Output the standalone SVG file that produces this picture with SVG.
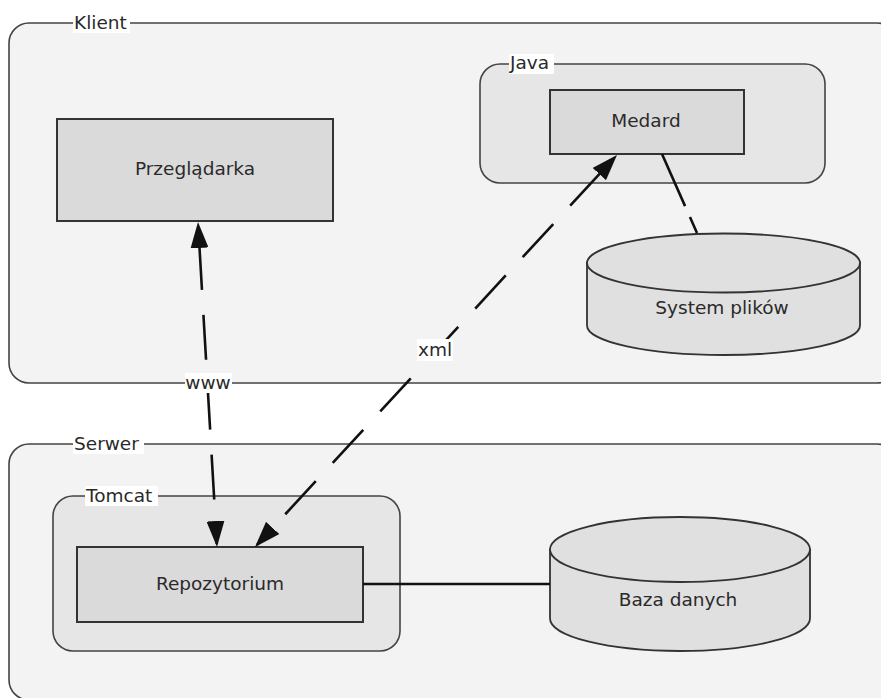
<svg xmlns="http://www.w3.org/2000/svg" width="881" height="698" viewBox="0 0 881 698">
<style>
text{font-family:"DejaVu Sans","Liberation Sans",sans-serif;font-size:18.5px;fill:#2a2a2a}
.mid{text-anchor:middle}
.outer{fill:#f3f3f3;stroke:#444;stroke-width:1.6}
.inner{fill:#e6e6e6;stroke:#444;stroke-width:1.6}
.box{fill:#dadada;stroke:#333;stroke-width:2}
.cyl{fill:#e0e0e0;stroke:#333;stroke-width:1.8}
.lbl{fill:#fff}
.conn{fill:none;stroke:#111;stroke-width:2.6}
.dash{stroke-dasharray:45 25}
</style>
<defs>
<marker id="ah" markerUnits="userSpaceOnUse" markerWidth="26" markerHeight="18" refX="23" refY="9" orient="auto-start-reverse">
<path d="M0,0 L26,9 L0,18 z" fill="#111"/>
</marker>
</defs>
<rect width="881" height="698" fill="#fff"/>
<g id="klient">
<rect class="outer" x="9" y="23" width="888" height="360" rx="20"/>
<rect class="lbl" x="73" y="13" width="57" height="20"/>
<text x="74" y="29">Klient</text>
</g>
<g id="serwer">
<rect class="outer" x="9" y="444" width="888" height="256" rx="20"/>
<rect class="lbl" x="73" y="434" width="71" height="20"/>
<text x="74" y="450">Serwer</text>
</g>
<g id="java">
<rect class="inner" x="480" y="64" width="345" height="119" rx="20"/>
<rect class="lbl" x="509" y="54" width="45" height="20"/>
<text x="510" y="69">Java</text>
</g>
<g id="tomcat">
<rect class="inner" x="53" y="496" width="347" height="155" rx="20"/>
<rect class="lbl" x="85" y="486" width="73" height="20"/>
<text x="86" y="502">Tomcat</text>
</g>
<g id="przegladarka">
<rect class="box" x="57" y="119" width="276" height="102"/>
<text class="mid" x="195" y="175">Przeglądarka</text>
</g>
<g id="medard">
<rect class="box" x="550" y="90" width="194" height="64"/>
<text class="mid" x="646" y="127">Medard</text>
</g>
<g id="system-plikow">
<path class="cyl" d="M587,263 L587,325.5 A136.5,29.5 0 0 0 860,325.5 L860,263 Z"/>
<ellipse class="cyl" cx="723.5" cy="263" rx="136.5" ry="29.5"/>
<text class="mid" x="722" y="314">System plików</text>
</g>
<g id="repozytorium">
<rect class="box" x="77" y="547" width="286" height="75"/>
<text class="mid" x="220" y="590">Repozytorium</text>
</g>
<g id="baza-danych">
<path class="cyl" d="M550,549.5 L550,618.5 A130,32.5 0 0 0 810,618.5 L810,549.5 Z"/>
<ellipse class="cyl" cx="680" cy="549.5" rx="130" ry="32.5"/>
<text class="mid" x="678" y="606">Baza danych</text>
</g>
<g id="connectors">
<path class="conn" d="M662,154 L697,233" stroke-dasharray="57 12 100"/>
<path class="conn" d="M363,584 L550,584" stroke-width="2"/>
<path class="conn dash" d="M198.18,225 L216.82,544" stroke-dashoffset="-20" marker-start="url(#ah)" marker-end="url(#ah)"/>
<path class="conn dash" d="M614.96,157.2 L257.04,544.8" stroke-dashoffset="-21" marker-start="url(#ah)" marker-end="url(#ah)"/>
<rect class="lbl" x="185" y="373" width="47" height="20"/>
<text class="mid" x="208" y="389">www</text>
<rect class="lbl" x="417" y="339" width="36" height="22"/>
<text class="mid" x="435" y="356">xml</text>
</g>
</svg>
